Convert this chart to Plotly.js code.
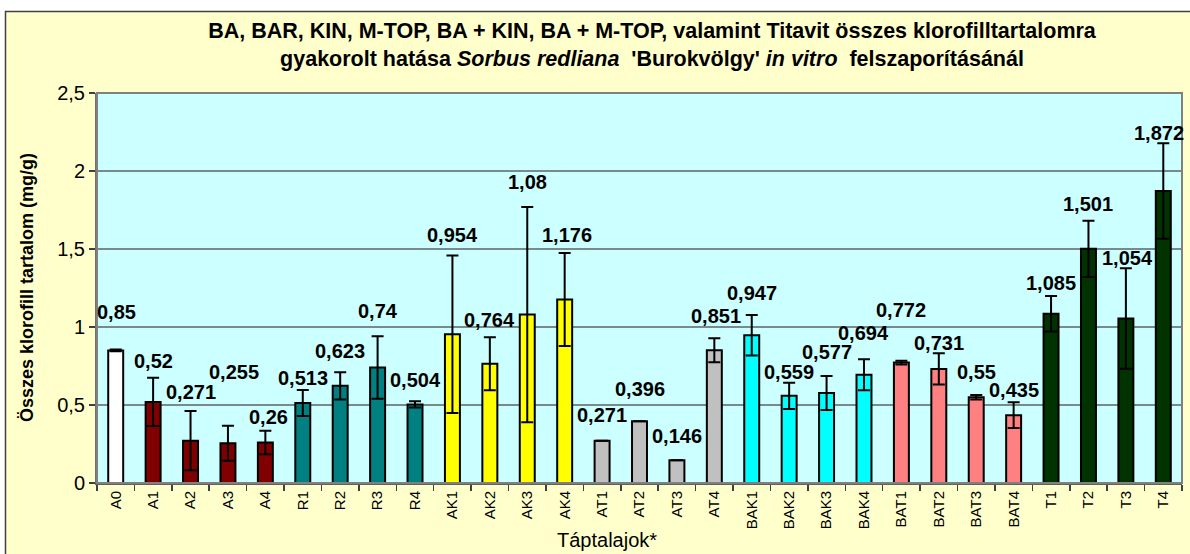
<!DOCTYPE html>
<html>
<head>
<meta charset="utf-8">
<script src="https://cdn.plot.ly/plotly-3.0.1.min.js"></script>
<style>html,body{margin:0;padding:0;background:#fff;}#chart{width:1190px;height:554px;}</style>
</head>
<body>
<div id="chart"></div>
<script>
// ---- data ----
const categories = ["A0","A1","A2","A3","A4","R1","R2","R3","R4","AK1","AK2","AK3","AK4",
  "AT1","AT2","AT3","AT4","BAK1","BAK2","BAK3","BAK4","BAT1","BAT2","BAT3","BAT4","T1","T2","T3","T4"];
const values = [0.85,0.52,0.271,0.255,0.26,0.513,0.623,0.74,0.504,0.954,0.764,1.08,1.176,
  0.271,0.396,0.146,0.851,0.947,0.559,0.577,0.694,0.772,0.731,0.55,0.435,1.085,1.501,1.054,1.872];
const errors = [0.006,0.155,0.19,0.112,0.075,0.083,0.087,0.2,0.02,0.505,0.17,0.69,0.298,
  0,0,0,0.077,0.13,0.084,0.109,0.099,0.012,0.1,0.014,0.082,0.114,0.18,0.322,0.306];
const yTickVals = [0,0.5,1,1.5,2,2.5];
const yTickText = ["0","0,5","1","1,5","2","2,5"];

// ---- styling (label lift above the error-bar top, in pixels, as placed in the original) ----
const labelLift = [37,17,19,54,14,12,21,25,21,20,17,25,18,26,32,24,22,22,11,24,26,51,10,23,12,13,17,10,10];
const labelNudgeX = [1,0,0,6,3,0,0,0,0,0,0,0,2,0,0,0,2,0,0,0,0,0,0,0,0,0,0,2,-4];

const groupColors = {A0:"#FFFFFF", A:"#800000", R:"#008080", AK:"#FFFF00", AT:"#C0C0C0",
  BAK:"#00FFFF", BAT:"#FF8080", T:"#003300"};
const barColors = categories.map(c => c === "A0" ? groupColors.A0 : groupColors[c.replace(/[0-9]+$/, "")]);

const FONT = "Arial, 'Liberation Sans', sans-serif";

const trace = {
  type: "bar",
  x: categories,
  y: values,
  width: 0.4,
  marker: {color: barColors, line: {color: "#000000", width: 2}},
  error_y: {type: "data", array: errors, visible: true, color: "#000000", thickness: 2, width: 6},
  hoverinfo: "x+y"
};

const labelAnn = categories.map((c, i) => ({
  x: c, y: values[i] + errors[i], xref: "x", yref: "y",
  text: String(values[i]).replace(".", ","),
  showarrow: false, yanchor: "middle", xanchor: "center",
  yshift: labelLift[i], xshift: labelNudgeX[i],
  font: {family: FONT, size: 20, color: "#000", weight: "bold"}
}));

const PL = 97, PR = 1182, PT = 93, PB = 483;
const px2x = p => (p - PL) / (PR - PL);
const px2y = p => (PB - p) / (PB - PT);

const layout = {
  width: 1190, height: 554,
  margin: {l: PL, r: 1190 - PR, t: PT, b: 554 - PB, pad: 0},
  paper_bgcolor: "#FFFFCC",
  plot_bgcolor: "#CCFFFF",
  showlegend: false,
  title: {
    text: "<b>BA, BAR, KIN, M-TOP, BA + KIN, BA + M-TOP, valamint Titavit összes klorofilltartalomra<br>gyakorolt hatása <i>Sorbus redliana</i>  'Burokvölgy' <i>in vitro</i>  felszaporításánál</b>",
    font: {family: FONT, size: 21.5, color: "#000"},
    x: 652 / 1190, xanchor: "center", xref: "container",
    y: 1 - 38 / 554, yanchor: "top", yref: "container"
  },
  xaxis: {
    type: "category",
    tickangle: -90,
    tickfont: {family: FONT, size: 15, color: "#000"},
    ticks: "outside", tickson: "boundaries", ticklen: 6, tickcolor: "#404040", tickwidth: 1.5,
    showline: true, linecolor: "#606060", linewidth: 2,
    showgrid: false, zeroline: false, automargin: false,
    range: [-0.5, categories.length - 0.5]
  },
  yaxis: {
    range: [0, 2.5],
    tickvals: yTickVals, ticktext: yTickText,
    tickfont: {family: FONT, size: 20, color: "#000"},
    ticks: "outside", ticklen: 6, tickcolor: "#404040", tickwidth: 1.5,
    showline: true, linecolor: "#707070", linewidth: 2,
    showgrid: true, gridcolor: "#7a8a8a", gridwidth: 1.5,
    zeroline: false, automargin: false
  },
  shapes: [
    {type: "rect", xref: "paper", yref: "paper", x0: px2x(0), x1: px2x(1190), y0: px2y(11), y1: px2y(0),
     fillcolor: "#FFFFFF", line: {width: 0}, layer: "below"},
    {type: "rect", xref: "paper", yref: "paper", x0: px2x(0), x1: px2x(5), y0: px2y(554), y1: px2y(11),
     fillcolor: "#FFFFFF", line: {width: 0}, layer: "below"},
    {type: "rect", xref: "paper", yref: "paper", x0: px2x(5.5), x1: px2x(1200), y0: px2y(600), y1: px2y(11.5),
     fillcolor: "rgba(0,0,0,0)", line: {color: "#404040", width: 1.5}, layer: "below"},
    {type: "rect", xref: "paper", yref: "paper", x0: 0, x1: 1, y0: 0, y1: 1,
     fillcolor: "rgba(0,0,0,0)", line: {color: "#808080", width: 2}, layer: "above"}
  ],
  annotations: labelAnn.concat([
    {xref: "paper", yref: "paper", x: px2x(27), y: 0.5, text: "<b>Összes klorofill tartalom (mg/g)</b>",
     textangle: -90, showarrow: false, xanchor: "center", yanchor: "middle",
     font: {family: FONT, size: 18, color: "#000"}},
    {xref: "paper", yref: "paper", x: px2x(607), y: px2y(540), text: "Táptalajok*",
     showarrow: false, xanchor: "center", yanchor: "middle",
     font: {family: FONT, size: 20, color: "#000"}}
  ])
};

Plotly.newPlot("chart", [trace], layout, {displayModeBar: false, staticPlot: true});
</script>
</body>
</html>
